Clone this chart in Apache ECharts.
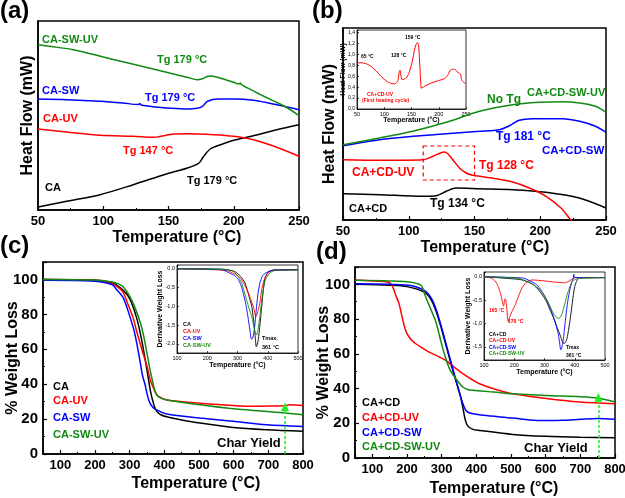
<!DOCTYPE html>
<html><head><meta charset="utf-8">
<script src="https://cdn.jsdelivr.net/npm/echarts@6/dist/echarts.min.js"></script>
<style>html,body{margin:0;padding:0;background:#fff}#c{width:625px;height:498px}</style>
</head><body><div id="c"></div>
<script>
// ---------- DATA ----------
// (a) DSC, arbitrary heat-flow units  [T (°C), value]
const aCA     = [[50,1],[72,6.7],[97.6,13.3],[123,23.3],[149,34.3],[164.6,40],[173.4,45],[177,51.7],[182,59],[190,63.3],[200,67.7],[215,72.3],[233,78.3],[250,83.3]];
const aCAUV   = [[50,79],[72,76],[97.6,72.7],[123,71.7],[138.7,70.7],[144,71.7],[154,74],[164.6,74.3],[185,73.3],[200,71.7],[215,68.3],[231,61.7],[250,51.7]];
const aCASW   = [[50,109],[72,108.3],[97.6,106.7],[115,105],[127,103.5],[128,104.5],[129,103],[140,101],[149,100],[164.6,99],[172,99.7],[176,101.7],[180,106.7],[188,109],[200,109],[215,107.7],[233,103.3],[250,98.3]];
const aCASWUV = [[50,163.3],[60,161.5],[77,158.3],[100,151],[120,144.7],[150,135.2],[165,130.4],[172,128.3],[176,129.3],[180,131.7],[183,132],[190,129.7],[200,125.7],[204,124],[205,125],[206,123.3],[210,120.3],[220,113.7],[230,107.3],[240,101],[250,92.3]];
// (b) DSC
const bCD     = [[50,24.3],[77.8,23.3],[110.8,21.7],[121,22.3],[128.5,26.7],[136,30],[153.8,29.3],[179,28.3],[204.4,25.7],[229.7,20],[250,10]];
const bCDUV   = [[50,58.3],[77.8,57.7],[110.8,58.3],[118.4,61.7],[124,65],[127,66],[129.5,64.5],[133.5,58.3],[138.6,50],[143.7,45],[148.7,42.7],[166.5,39.3],[179,36],[191.8,30],[204.4,21.7],[215.8,10],[222,0],[224,-3]];
const bCDSW   = [[50,72.3],[77.8,78.3],[103,81.7],[128.5,84.3],[153.8,86.7],[169,88.3],[176.6,92.3],[184,97.7],[194,99.3],[217,99.3],[230,96.7],[242,91.7],[250,85.7]];
const bCDSWUV = [[50,73.3],[77.8,80],[103,86.7],[128.5,95.7],[153.8,106.7],[179,113.3],[199.6,115.7],[217,116.3],[230,115],[242,111.7],[250,105.7]];
const bBox    = [[111,72],[150,38]];
// (b) inset: CA+CD-UV first heating cycle, Heat Flow (mW)
const bInsetUV = [[50,0.845],[57.5,0.85],[67,0.83],[76,0.78],[85,0.7],[94,0.6],[102,0.53],[110,0.48],[119,0.46],[124,0.5],[126,0.56],[127.5,0.68],[129,0.71],[130.5,0.62],[132.5,0.54],[137,0.55],[140.5,0.57],[145,0.65],[149.8,0.81],[153,0.95],[156,1.11],[159,1.2],[161,1.22],[163,1.17],[165,0.85],[167,0.48],[168,0.38],[171,0.4],[174,0.42],[187,0.48],[199,0.52],[211,0.56],[217,0.63],[222,0.72],[228.5,0.73],[233,0.7],[236,0.66],[240,0.64],[242,0.54],[247,0.48],[250,0.47]];
// (c) TGA, % weight
const cCA     = [[50,100],[200,99.6],[250,98],[280,94],[300,89],[320,78],[335,65],[350,48],[360,36],[370,28],[378,24.4],[390,22.5],[407,21.3],[450,19.5],[503,17.7],[599,15.2],[695,13.9],[800,13]];
const cCAUV   = [[50,100],[200,99.5],[250,97.5],[263,96],[280,93],[296.6,85],[310,78],[320.5,70],[335,60],[349,51],[360,42],[368.5,38],[375,35],[383,33],[407,31],[503,29.1],[599,27.8],[650,27.3],[700,27.5],[750,27.6],[760,28.2],[800,27.8]];
const cCASW   = [[50,99.5],[200,99],[250,97],[263,94],[280,90],[292,84],[311,72],[320,64],[330,53],[337,45],[344.5,39.6],[352,33],[359,29],[368,26.5],[378,25.3],[407,22.9],[503,20.6],[599,18.7],[695,16.8],[800,15.8]];
const cCASWUV = [[50,100],[200,99.7],[250,98.5],[280,96],[301,90],[315,84],[330,75.8],[340,68],[349,58.7],[357,50],[364,43.4],[371,37.5],[378,33.9],[390,32],[407,31],[503,28.2],[599,25.9],[695,24.4],[800,22.5]];
const cCharYield = [[748,0],[748,27]];
// (c) inset: derivative weight loss
const cdCA     = [[100,0],[250,-0.01],[290,-0.07],[310,-0.2],[325,-0.38],[337,-0.7],[347,-1.0],[353,-1.35],[358,-1.75],[362,-2.07],[366,-2.0],[370,-1.8],[374,-1.5],[379,-1.1],[383,-0.75],[387,-0.45],[391,-0.25],[400,-0.1],[407,-0.06],[420,-0.03],[500,-0.02]];
const cdCAUV   = [[100,0],[240,-0.03],[270,-0.06],[286,-0.12],[300,-0.18],[314,-0.29],[325,-0.45],[336,-0.65],[344,-0.82],[352,-1.0],[358,-1.2],[361,-1.27],[365,-1.2],[369,-1.09],[375,-0.85],[380,-0.56],[388,-0.3],[396,-0.16],[410,-0.06],[430,-0.04],[500,-0.03]];
const cdCASW   = [[100,0],[250,-0.03],[275,-0.12],[290,-0.18],[303,-0.29],[312,-0.45],[319,-0.65],[325,-0.85],[330,-1.05],[336,-1.35],[341,-1.63],[346,-1.87],[350,-1.85],[354,-1.7],[358,-1.45],[363,-1.0],[368,-0.65],[374,-0.38],[382,-0.2],[391,-0.12],[418,-0.04],[500,-0.03]];
const cdCASWUV = [[100,0],[260,-0.02],[285,-0.06],[297,-0.16],[306,-0.26],[314,-0.38],[322,-0.6],[330,-0.83],[338,-1.05],[347,-1.27],[353,-1.5],[358,-1.67],[363,-1.76],[368,-1.6],[374,-1.27],[379,-0.9],[385,-0.56],[392,-0.3],[402,-0.16],[415,-0.07],[430,-0.04],[500,-0.03]];
// (d) TGA, % weight
const dCD     = [[50,100],[150,99.5],[200,98.7],[250,95.5],[270,91],[285,84],[300,74],[315,63],[330,52],[345,42],[355,35],[362,28],[368,22],[375,18.5],[390,16.5],[409,15.9],[505,13.6],[600,12.5],[700,11.9],[800,11.6]];
const dCDUV   = [[50,102.5],[100,102],[140,101.5],[153,100.4],[160,98],[168,93.5],[177,88.9],[185,82],[191.7,76.4],[198,72.5],[206,69.7],[215,67.5],[225.5,65.8],[245,63.3],[264,61],[290,58.5],[312,56.2],[335,52.5],[361,48.6],[385,45.5],[409,42.8],[457,39.5],[505.5,37],[602,34.2],[698.6,32.2],[800,31.3]];
const dCDSW   = [[50,100.3],[150,100],[200,99.6],[250,96.5],[270,92],[285,85],[300,75],[315,64],[330,53],[342,44],[352,37],[360,32],[368,28],[375,26.5],[390,25.5],[420,24.6],[505,23],[554,21.9],[600,21.6],[650,21.7],[700,22.3],[750,22.8],[800,22.3]];
const dCDSWUV = [[50,102.3],[150,102],[200,101.5],[240,99.5],[254,92.7],[270,85],[283.5,78.3],[298,67],[312,57.2],[326,50],[341,45.7],[361,40.9],[375,39.5],[390,39],[450,38],[505,37],[600,36],[700,35.3],[750,34.5],[800,32.2]];
const dCharYield = [[752,0],[752,35]];
// (d) inset: derivative weight loss
const ddCD     = [[100,0],[219,-0.06],[240,-0.1],[263,-0.17],[280,-0.28],[296,-0.42],[308,-0.55],[318,-0.71],[330,-0.88],[340,-1.06],[349,-1.2],[357,-1.35],[362,-1.42],[367,-1.42],[373,-1.35],[378,-1.2],[384,-0.95],[389,-0.71],[395,-0.4],[400,-0.21],[406,-0.1],[413,-0.03],[500,-0.02]];
const ddCDUV   = [[100,0],[120,-0.02],[131,-0.06],[140,-0.12],[147,-0.21],[153,-0.32],[158,-0.45],[162,-0.58],[165,-0.63],[168,-0.49],[171,-0.47],[175,-0.65],[178,-0.9],[180,-0.96],[184,-0.88],[192,-0.75],[203.5,-0.6],[214,-0.42],[225.6,-0.24],[240,-0.12],[258.7,-0.07],[300,-0.09],[340,-0.12],[369,-0.13],[385,-0.08],[402,-0.02],[500,-0.02]];
const ddCDSW   = [[100,0],[230,-0.03],[255,-0.1],[274,-0.17],[290,-0.3],[307,-0.49],[318,-0.65],[329,-0.85],[338,-1.03],[346,-1.24],[350,-1.42],[353.5,-1.56],[356,-1.55],[359,-1.45],[362,-1.35],[368,-1.0],[373,-0.71],[378,-0.48],[384,-0.28],[390,-0.12],[395,-0.03],[397,0.05],[399,-0.01],[420,-0.02],[500,-0.02]];
const ddCDSWUV = [[100,0],[208,-0.03],[230,-0.07],[252,-0.13],[270,-0.2],[285,-0.28],[297,-0.38],[307,-0.49],[318,-0.63],[329,-0.78],[338,-0.86],[346,-0.89],[352,-0.87],[357,-0.81],[362,-0.7],[368,-0.56],[375,-0.38],[384,-0.21],[392,-0.1],[401,-0.06],[420,-0.03],[500,-0.02]];

// ---------- STYLE ----------
const FF = '"Liberation Sans", Arial, Helvetica, sans-serif';
const BLACK = '#000000', RED = '#ff0000', BLUE = '#0000ff', GREEN = '#128a12', LIME = '#22ee22';

function merge(a, b) {
  const o = Object.assign({}, a);
  for (const k in b) {
    if (b[k] && typeof b[k] === 'object' && !Array.isArray(b[k]) && typeof b[k] !== 'function' && a[k] && typeof a[k] === 'object') o[k] = merge(a[k], b[k]);
    else o[k] = b[k];
  }
  return o;
}
const fmtStep = (step, dec, comma) => v => {
  const r = v / step;
  if (Math.abs(r - Math.round(r)) > 1e-6) return '';
  let s = dec ? v.toFixed(dec) : String(Math.round(v));
  if (comma) s = s.replace('.', ',');
  if (s === '-0,0') s = '0,0';
  return s;
};
function axis(gi, min, max, opt) {
  return merge({
    type: 'value', gridIndex: gi, min: min, max: max,
    axisLine: { show: true, onZero: false, lineStyle: { color: BLACK, width: 1.5 } },
    axisTick: { show: true, inside: true, length: 4, lineStyle: { color: BLACK, width: 1.2 } },
    minorTick: { show: true, splitNumber: 2, length: 2, lineStyle: { color: BLACK, width: 1 } },
    splitLine: { show: false },
    axisLabel: { show: true, color: BLACK, fontFamily: FF, fontWeight: 'bold', fontSize: 13, margin: 5 },
    nameLocation: 'middle', nameMoveOverlap: false,
    nameTextStyle: { color: BLACK, fontFamily: FF, fontWeight: 'bold', fontSize: 16 }
  }, opt || {});
}
const insetAx = {
  axisLine: { lineStyle: { width: 0.8 } },
  axisTick: { length: 2, lineStyle: { width: 0.7 } },
  minorTick: { show: false },
  axisLabel: { fontSize: 5.5, margin: 2, fontWeight: 'normal' },
  nameTextStyle: { fontSize: 7 }
};
function line(gi, data, color, w, smooth) {
  return { type: 'line', xAxisIndex: gi, yAxisIndex: gi, data: data, symbol: 'none', showSymbol: false,
    smooth: smooth === undefined ? 0.3 : smooth, lineStyle: { color: color, width: w }, itemStyle: { color: color },
    silent: true, animation: false, clip: true, z: 3 };
}
function charYield(pts) {
  return { silent: true, animation: false, symbol: ['none', 'triangle'], symbolSize: [8, 9], label: { show: false },
    lineStyle: { color: LIME, type: [3, 2], width: 1.5 }, data: [[{ coord: pts[0] }, { coord: pts[1] }]] };
}

const grids = [
  { left: 38, top: 21, width: 261, height: 189 },   // a
  { left: 343, top: 28, width: 263, height: 192 },  // b
  { left: 357, top: 30, width: 109, height: 79 },   // b inset
  { left: 43, top: 262, width: 260, height: 192 },  // c
  { left: 177, top: 265, width: 121, height: 88 },  // c inset
  { left: 355, top: 267, width: 260, height: 191 }, // d
  { left: 484, top: 272, width: 121, height: 88 }   // d inset
].map((g, i) => Object.assign({ show: true, borderColor: BLACK, borderWidth: (i === 2 || i === 4 || i === 6) ? 0.8 : 1.5,
  backgroundColor: '#ffffff', containLabel: false, outerBoundsMode: 'none' }, g));

const xAxes = [
  axis(0, 50, 250, { splitNumber: 4 }),
  axis(1, 50, 250, { splitNumber: 4 }),
  axis(2, 50, 250, merge(insetAx, { splitNumber: 4, name: 'Temperature (°C)', nameGap: 8 })),
  axis(3, 50, 800, { splitNumber: 7, axisLabel: { formatter: fmtStep(100, 0) } }),
  axis(4, 100, 500, merge(insetAx, { splitNumber: 4, name: 'Temperature (°C)', nameGap: 9 })),
  axis(5, 50, 800, { splitNumber: 7, axisLabel: { formatter: fmtStep(100, 0) } }),
  axis(6, 100, 500, merge(insetAx, { splitNumber: 4, name: 'Temperature (°C)', nameGap: 9 }))
];
const yAxes = [
  axis(0, -2, 187, { name: 'Heat Flow (mW)', nameGap: 2, axisLabel: { show: false }, axisTick: { show: false }, minorTick: { show: false } }),
  axis(1, -2, 190, { name: 'Heat Flow (mW)', nameGap: 5, axisLabel: { show: false }, axisTick: { show: false }, minorTick: { show: false } }),
  axis(2, 0, 1.45, merge(insetAx, { splitNumber: 7, name: 'Heat Flow (mW)', nameGap: 10, axisLabel: { fontSize: 5, formatter: fmtStep(0.2, 1, true) } })),
  axis(3, 0, 110, { splitNumber: 5, name: '% Weight Loss', nameGap: 22, axisLabel: { fontSize: 15, formatter: fmtStep(20, 0) } }),
  axis(4, -2.24, 0.1, merge(insetAx, { splitNumber: 4, name: 'Derivative Weight Loss', nameGap: 13, axisLabel: { formatter: fmtStep(0.5, 1, true) } })),
  axis(5, 0, 110, { splitNumber: 5, name: '% Weight Loss', nameGap: 23, axisLabel: { fontSize: 15, formatter: fmtStep(20, 0) } }),
  axis(6, -1.78, 0.1, merge(insetAx, { splitNumber: 4, name: 'Derivative Weight Loss', nameGap: 12, axisLabel: { formatter: fmtStep(0.5, 1, true) } }))
];

const bUV = line(1, bCDUV, RED, 1.5);
bUV.markArea = { silent: true, animation: false, itemStyle: { color: 'rgba(0,0,0,0)', borderColor: RED, borderWidth: 1.2, borderType: [4, 3] },
  data: [[{ coord: bBox[0] }, { coord: bBox[1] }]] };
const cSWUV = line(3, cCASWUV, GREEN, 1.5); cSWUV.markLine = charYield(cCharYield);
const dSWUV = line(5, dCDSWUV, GREEN, 1.5); dSWUV.markLine = charYield(dCharYield);

const series = [
  line(0, aCA, BLACK, 1.5), line(0, aCAUV, RED, 1.5), line(0, aCASW, BLUE, 1.5), line(0, aCASWUV, GREEN, 1.5),
  line(1, bCD, BLACK, 1.5), bUV, line(1, bCDSW, BLUE, 1.5), line(1, bCDSWUV, GREEN, 1.5),
  line(2, bInsetUV, RED, 1, 0.2),
  line(3, cCA, BLACK, 1.5), line(3, cCAUV, RED, 1.5), line(3, cCASW, BLUE, 1.5), cSWUV,
  line(4, cdCA, BLACK, 0.9, 0.2), line(4, cdCAUV, RED, 0.9, 0.2), line(4, cdCASW, BLUE, 0.9, 0.2), line(4, cdCASWUV, GREEN, 0.9, 0.2),
  line(5, dCD, BLACK, 1.5), line(5, dCDUV, RED, 1.5), line(5, dCDSW, BLUE, 1.5), dSWUV,
  line(6, ddCD, BLACK, 0.9, 0.2), line(6, ddCDUV, RED, 0.9, 0.2), line(6, ddCDSW, BLUE, 0.9, 0.2), line(6, ddCDSWUV, GREEN, 0.9, 0.2)
];

// annotations: [text, x, y, colour, fontSize, align]
const notes = [
  ['(a)', 0, 11, BLACK, 24], ['(b)', 312, 11, BLACK, 24], ['(c)', 0, 246, BLACK, 24], ['(d)', 316, 252, BLACK, 24],
  ['Temperature (°C)', 177, 238, BLACK, 16, 'center'], ['Temperature (°C)', 485, 248, BLACK, 16, 'center'],
  ['Temperature (°C)', 196, 484, BLACK, 16, 'center'], ['Temperature (°C)', 494, 489, BLACK, 16, 'center'],
  ['CA-SW-UV', 42, 40, GREEN, 11], ['Tg 179 °C', 157, 60, GREEN, 11], ['CA-SW', 42, 91, BLUE, 11], ['Tg 179 °C', 145, 98, BLUE, 11],
  ['CA-UV', 43, 119, RED, 11], ['Tg 147 °C', 123, 151, RED, 11], ['CA', 45, 188, BLACK, 11], ['Tg 179 °C', 187, 181, BLACK, 11],
  ['No Tg', 487, 100, GREEN, 12], ['CA+CD-SW-UV', 527, 93, GREEN, 11], ['Tg 181 °C', 496, 137, BLUE, 12], ['CA+CD-SW', 542, 151, BLUE, 11.5],
  ['CA+CD-UV', 352, 173, RED, 12], ['Tg 128 °C', 479, 166, RED, 12], ['CA+CD', 349, 209, BLACK, 11], ['Tg 134 °C', 430, 204, BLACK, 12],
  ['65 °C', 361, 57, BLACK, 5], ['128 °C', 391, 56, BLACK, 5], ['159 °C', 405, 38, BLACK, 5],
  ['CA+CD-UV', 367, 95, RED, 5], ['(First heating cycle)', 362, 101, RED, 5],
  ['CA', 53, 387, BLACK, 11], ['CA-UV', 53, 401, RED, 11], ['CA-SW', 53, 418, BLUE, 11], ['CA-SW-UV', 53, 435, GREEN, 11],
  ['Char Yield', 217, 443, BLACK, 13],
  ['CA', 183, 324, BLACK, 5.5], ['CA-UV', 183, 331, RED, 5.5], ['CA-SW', 183, 338, BLUE, 5.5], ['CA-SW-UV', 183, 345, GREEN, 5.5],
  ['Tmax.', 262, 338, BLACK, 5.5], ['361 °C', 262, 347, BLACK, 5.5],
  ['CA+CD', 362, 403, BLACK, 11], ['CA+CD-UV', 362, 418, RED, 11], ['CA+CD-SW', 362, 433, BLUE, 11], ['CA+CD-SW-UV', 362, 447, GREEN, 11],
  ['Char Yield', 524, 448, BLACK, 13],
  ['165 °C', 489, 311, RED, 5], ['178 °C', 508, 322, RED, 5],
  ['CA+CD', 489, 335, BLACK, 5], ['CA+CD-UV', 489, 341, RED, 5], ['CA+CD-SW', 489, 348, BLUE, 5], ['CA+CD-SW-UV', 489, 354, GREEN, 5],
  ['Tmax', 566, 348, BLACK, 5], ['361 °C', 566, 356, BLACK, 5]
];
const graphic = notes.map(n => ({
  type: 'text', x: n[1], y: n[2], z: 100, silent: true,
  style: { text: n[0], fill: n[3], fontSize: n[4], fontWeight: 'bold', fontFamily: FF, align: n[5] || 'left', verticalAlign: 'middle' }
}));

const chart = echarts.init(document.getElementById('c'), null, { renderer: 'canvas', width: 625, height: 498 });
chart.setOption({
  animation: false,
  backgroundColor: '#ffffff',
  textStyle: { fontFamily: FF },
  grid: grids, xAxis: xAxes, yAxis: yAxes, series: series, graphic: graphic
});
</script></body></html>
